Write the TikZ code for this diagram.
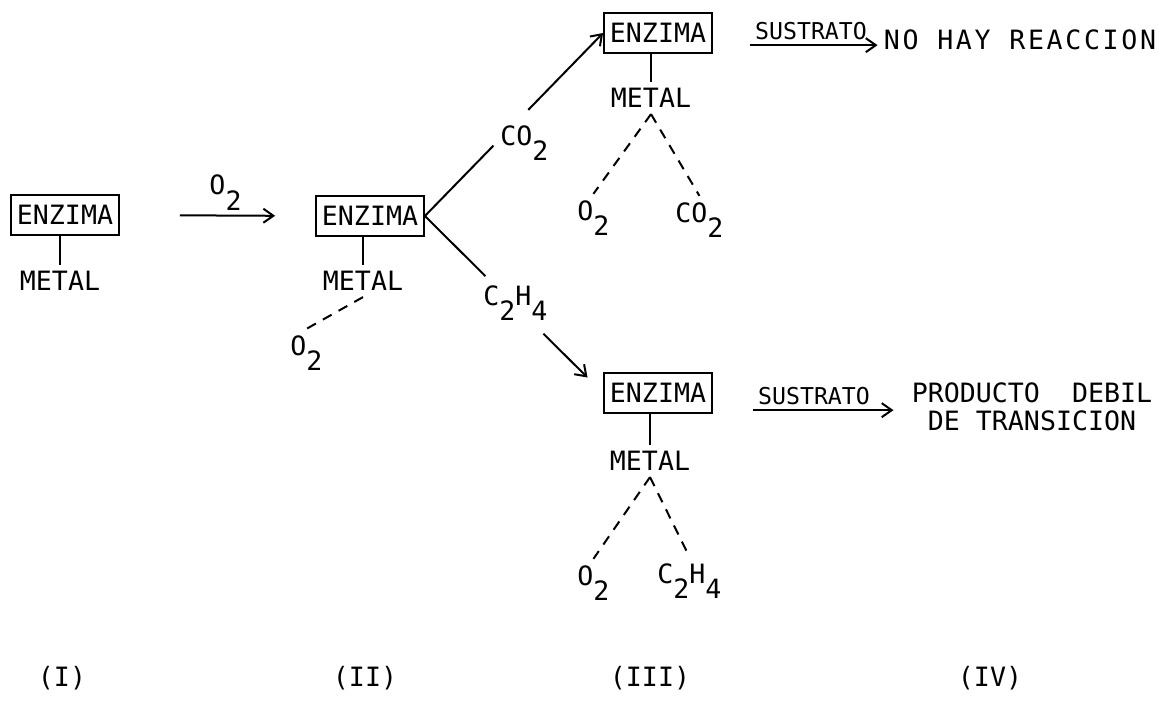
\documentclass[tikz,border=0pt]{standalone}
\usepackage{fontspec}
\setmonofont{DejaVu Sans Mono}
\newfontfamily\widemono[LetterSpace=10]{DejaVu Sans Mono}
\usetikzlibrary{arrows.meta,calc}
\newcommand{\dn}[1]{\raisebox{-0.6em}{#1}}
\tikzset{
  ln/.style={line width=1pt},
  arr/.style={ln,-{Straight Barb[length=5pt,width=7pt]}},
  dsh/.style={ln,dash pattern=on 5pt off 4pt},
  box/.style={draw,line width=0.9pt,minimum width=54pt,minimum height=20pt,inner sep=1pt},
  lbl/.style={inner sep=3pt},
  sus/.style={inner sep=2.5pt,font=\ttfamily\fontsize{11.6}{12}\selectfont},
}
\begin{document}
\begin{tikzpicture}[x=0.5pt,y=-0.5pt,font=\ttfamily\fontsize{13.3}{14}\selectfont]
\useasboundingbox (0,0) rectangle (1166,702);
% column I
\node[box] (b1) at (65,215) {ENZIMA};
\node[lbl] (m1) at (60,281) {METAL};
\draw[ln] (m1.north) -- (m1.north |- b1.south);
% column II
\node[box] (b2) at (370,216) {ENZIMA};
\node[lbl] (m2) at (363,281) {METAL};
\draw[ln] (m2.north) -- (m2.north |- b2.south);
\node[lbl,anchor=base west] (o2) at (284,355) {O\dn{2}};
\draw[dsh] (m2.south) -- (o2.north);
\draw[arr,shorten <=30pt,shorten >=20pt] (b1.east) -- (b2.west)
  node[midway,above,xshift=4pt,inner sep=2pt] (lo2) {O\dn{2}};
% column III upper
\node[box] (b3) at (658,33) {ENZIMA};
\node[lbl] (m3) at (651,98) {METAL};
\draw[ln] (m3.north) -- (m3.north |- b3.south);
\node[lbl,anchor=base west] (o3) at (571,220) {O\dn{2}};
\node[lbl,anchor=base west] (c3) at (669,222) {CO\dn{2}};
\draw[dsh] (m3.south) -- (o3.north);
\draw[dsh] (m3.south) -- (c3.north);
% column III lower
\node[box] (b4) at (658,393) {ENZIMA};
\node[lbl] (m4) at (650,461) {METAL};
\draw[ln] (m4.north) -- (m4.north |- b4.south);
\node[lbl,anchor=base west] (o4) at (571,585) {O\dn{2}};
\node[lbl,anchor=base west] (c4) at (651,583) {C\dn{2}H\dn{4}};
\draw[dsh] (m4.south) -- (o4.north);
\draw[dsh] (m4.south) -- (c4.north);
% branches
\node[lbl,anchor=base west] (co2) at (494,145) {CO\dn{2}};
\draw[ln] (b2.east) -- ($(b2.east)!0.385!(b3.west)$);
\draw[arr] ($(b2.east)!0.58!(b3.west)$) -- (b3.west);
\node[lbl,anchor=base west] (c2h4) at (477,305) {C\dn{2}H\dn{4}};
\draw[ln] (b2.east) -- ($(b2.east)!0.34!(b4.west)$);
\draw[arr,shorten >=11pt] ($(b2.east)!0.665!(b4.west)$) -- (b4.west);
% column IV
\node[sus] (s1) at (811,31) {SUSTRATO};
\node[lbl,font=\widemono\fontsize{13.3}{14}\selectfont] (r1) at (1020,40) {NO HAY REACCION};
\draw[arr] (s1.south west) -- (s1.south west -| r1.west);
\node[sus] (s2) at (814,396) {SUSTRATO};
\node[lbl,align=center] (p2) at (1032,407) {PRODUCTO\ \ DEBIL\\DE TRANSICION};
\draw[arr,shorten >=6pt] (s2.south west) -- (s2.south west -| p2.west);
% stage labels
\node[lbl] (l1) at (62,678) {(I)};
\node[lbl] (l2) at (365,678) {(II)};
\node[lbl] (l3) at (650,678) {(III)};
\node[lbl] (l4) at (990,678) {(IV)};
\end{tikzpicture}
\end{document}
